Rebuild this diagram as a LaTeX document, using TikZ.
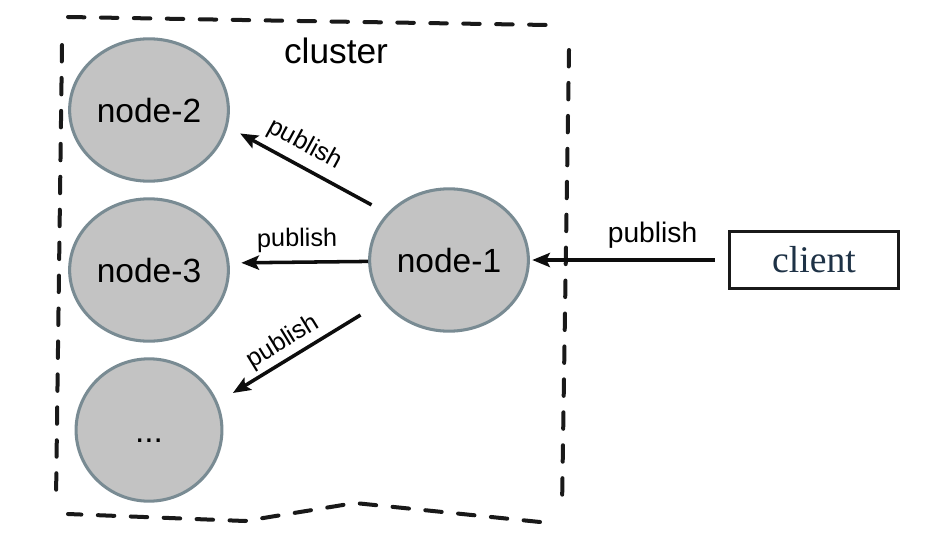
\documentclass[tikz,border=0pt]{standalone}
\usepackage{fontspec}
\setsansfont{Liberation Sans}
\newfontfamily\clientfont{Liberation Serif}
\usepackage{tikz}
\usepackage{xcolor}
\usetikzlibrary{shapes}
\usetikzlibrary{positioning}
\usetikzlibrary{arrows.meta}

\definecolor{peerfill}{HTML}{C3C3C3}
\definecolor{peerline}{HTML}{798B93}
\definecolor{clientink}{HTML}{1E3246}

\begin{document}
\begin{tikzpicture}[x=0.85pt,y=-0.85pt,font=\sffamily]
	\tikzstyle{peer}=[ellipse,line width=2.6pt,draw=peerline,fill=peerfill,minimum width=124pt,minimum height=121pt,font=\sffamily\fontsize{28.5}{30}\selectfont,text height=20.5pt,text depth=0pt]
	\tikzstyle{clientbox}=[rectangle,draw=black!90,line width=2.6pt,minimum width=144pt,minimum height=48pt,text=clientink,font=\clientfont\fontsize{32}{34}\selectfont]
	\tikzstyle{link}=[draw=black!95,line width=3pt,-{Stealth[length=15pt,width=12pt,inset=3pt]}]
	\tikzstyle{lbl}=[font=\sffamily\fontsize{21.5}{23}\selectfont,sloped]
	\tikzstyle{border}=[draw=black!90,line width=3.4pt,line cap=round,dash pattern=on 14pt off 14pt]

	\useasboundingbox (0,0) rectangle (933,549);

	% cluster outline
	\draw[border] (68,17) -- (300,21) -- (548,25);
	\draw[border] (569,50) -- (562,508);
	\draw[border] (540,522) -- (355,503) -- (245,521) -- (68,514);
	\draw[border] (62,45) -- (56,500);

	\node [font=\sffamily\fontsize{30}{32}\selectfont,anchor=base] (title) at (336,63) {cluster};

	\node [peer] (n2) at (149,110) {node-2};
	\node [peer] (n3) at (149,270) {node-3};
	\node [peer] (n4) at (149,430) {...};
	\node [peer] (n1) at (449,260) {node-1};
	\node [clientbox] (cl) at (814,260) {client};

	\path[link,shorten <=15pt,shorten >=12pt] (n1.143) -- node[lbl,pos=0.58,above=3pt] {publish} (n2.-12);
	\path[link,shorten >=10pt] (n1.181) -- node[lbl,pos=0.51,above=4pt] {publish} (n3.5);
	\path[link,shorten <=22pt,shorten >=15pt] (n1.212) -- node[lbl,pos=0.55,above=0pt] {publish} (n4.22);
	\path[link,shorten <=11pt,shorten >=2pt] (cl.west) -- node[lbl,pos=0.38,above=5pt,font=\sffamily\fontsize{24}{26}\selectfont] {publish} (n1.east);

\end{tikzpicture}
\end{document}
